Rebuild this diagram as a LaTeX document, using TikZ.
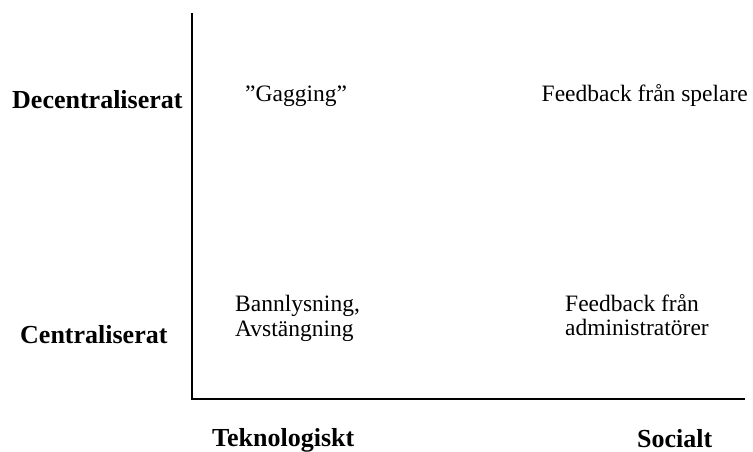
\documentclass[tikz,border=0pt]{standalone}
\usepackage{fontspec}
\setmainfont{Liberation Serif}
\begin{document}
\begin{tikzpicture}[x=1pt,y=-1pt,
  axis/.style={line width=1.8pt,black},
  axlabel/.style={anchor=base west,inner sep=0pt,font=\fontsize{26}{30}\selectfont\bfseries},
  item/.style={anchor=base west,inner sep=0pt,font=\fontsize{23.5}{25}\selectfont}]
\useasboundingbox (0,0) rectangle (753,452);
\coordinate (top) at (192,13);
\coordinate (origin) at (192,399);
\coordinate (right) at (745,399);
\draw[axis] (top) -- (origin) -- (right);
\node[axlabel] (dec) at (12,108) {Decentraliserat};
\node[axlabel] (cen) at (20,343) {Centraliserat};
\node[axlabel] (tek) at (212,446) {Teknologiskt};
\node[axlabel] (soc) at (637,447) {Socialt};
\node[item] (gag) at (245,102) {”Gagging”};
\node[item] (fbs) at (541.5,102) {Feedback från spelare};
\node[item] (ban) at (235,311.5) {\vtop{\baselineskip=25pt\hbox{Bannlysning,}\hbox{Avstängning}}};
\node[item] (fba) at (565,311.5) {\vtop{\baselineskip=24pt\hbox{Feedback från}\hbox{administratörer}}};
\end{tikzpicture}
\end{document}
